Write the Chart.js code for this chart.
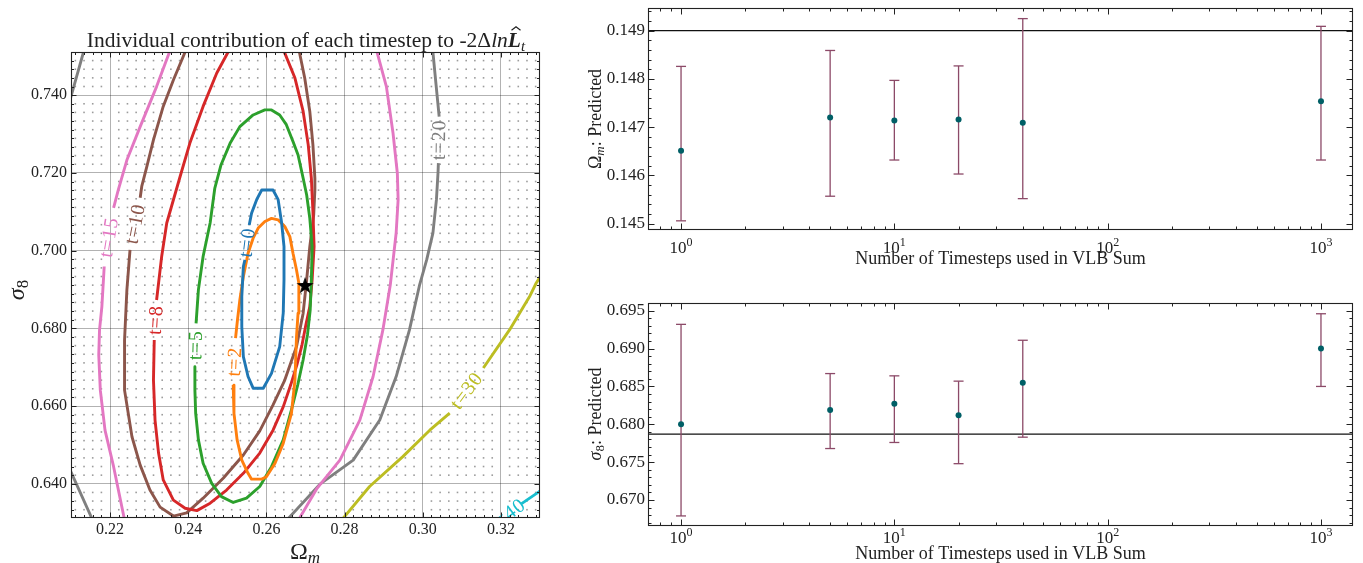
<!DOCTYPE html>
<html>
<head>
<meta charset="utf-8">
<title>VLB timestep contributions</title>
<script src="https://cdn.jsdelivr.net/npm/chart.js@4.4.1/dist/chart.umd.min.js"></script>
<style>
  body { margin: 0; background: #fff; }
  #wrap { position: relative; width: 1363px; height: 563px; }
  canvas { position: absolute; }
</style>
</head>
<body>
<div id="wrap">
  <canvas id="contours" width="560" height="563" style="left:0;top:0;width:560px;height:563px"></canvas>
  <canvas id="omega" width="803" height="280" style="left:560px;top:0;width:803px;height:280px"></canvas>
  <canvas id="sigma" width="803" height="283" style="left:560px;top:280px;width:803px;height:283px"></canvas>
</div>
<script>
// ---- contour lines in (Omega_m, sigma_8); each one is cut where its inline label goes
const contourNames = ['t=0', 't=2', 't=5', 't=8', 't=10', 't=15', 't=20', 't=30', 't=40'];

const contourT0 = [
  [[0.2545,0.6976],[0.2541,0.6959],[0.2537,0.6882],[0.2537,0.6804],[0.2541,0.6727],[0.2553,0.6676],
   [0.2566,0.6646],[0.2592,0.6646],[0.2613,0.6684],[0.2634,0.6753],[0.2643,0.6839],[0.2645,0.6925],
   [0.2645,0.7010],[0.2639,0.7071],[0.2630,0.7131],[0.2617,0.7156],[0.2588,0.7156],[0.2575,0.7131],
   [0.2562,0.7096],[0.2556,0.7066]]
];
const contourT2 = [
  [[0.2515,0.6654],[0.2517,0.6581],[0.2525,0.6513],[0.2537,0.6461],[0.2553,0.6427],[0.2562,0.6412],
   [0.2588,0.6412],[0.2600,0.6418],[0.2622,0.6453],[0.2643,0.6504],[0.2664,0.6581],[0.2673,0.6667],
   [0.2677,0.6779],[0.2681,0.6839],[0.2683,0.6882],[0.2683,0.6916],[0.2677,0.6950],[0.2668,0.6993],
   [0.2660,0.7036],[0.2647,0.7062],[0.2630,0.7079],[0.2613,0.7083],[0.2596,0.7075],[0.2579,0.7058],
   [0.2566,0.7032],[0.2553,0.6993],[0.2541,0.6933],[0.2532,0.6873],[0.2526,0.6822],[0.2521,0.6775]]
];
const contourT5 = [
  [[0.2417,0.6701],[0.2417,0.6641],[0.2419,0.6581],[0.2426,0.6513],[0.2438,0.6453],[0.2460,0.6401],
   [0.2485,0.6367],[0.2515,0.6352],[0.2549,0.6363],[0.2583,0.6393],[0.2613,0.6444],[0.2643,0.6513],
   [0.2664,0.6590],[0.2680,0.6654],[0.2694,0.6719],[0.2705,0.6783],[0.2712,0.6847],[0.2715,0.6925],
   [0.2717,0.7010],[0.2711,0.7083],[0.2703,0.7143],[0.2694,0.7186],[0.2681,0.7246],[0.2668,0.7281],
   [0.2651,0.7324],[0.2634,0.7349],[0.2613,0.7362],[0.2596,0.7362],[0.2566,0.7349],[0.2532,0.7319],
   [0.2507,0.7276],[0.2484,0.7221],[0.2468,0.7161],[0.2456,0.7071],[0.2438,0.6985],[0.2426,0.6899],
   [0.2420,0.6813]]
];
const contourT8 = [
  [[0.2519,0.7542],[0.2502,0.7511],[0.2473,0.7457],[0.2438,0.7371],[0.2404,0.7276],[0.2379,0.7190],
   [0.2345,0.7071],[0.2332,0.6985],[0.2324,0.6916],[0.2319,0.6873]],
  [[0.2313,0.6770],[0.2311,0.6667],[0.2315,0.6564],[0.2324,0.6479],[0.2336,0.6410],[0.2362,0.6358],
   [0.2392,0.6337],[0.2422,0.6331],[0.2456,0.6350],[0.2498,0.6384],[0.2541,0.6427],[0.2583,0.6479],
   [0.2617,0.6538],[0.2643,0.6598],[0.2662,0.6654],[0.2678,0.6706],[0.2691,0.6757],[0.2701,0.6809],
   [0.2711,0.6856],[0.2717,0.6925],[0.2722,0.7010],[0.2719,0.7100],[0.2715,0.7186],[0.2707,0.7272],
   [0.2694,0.7358],[0.2673,0.7444],[0.2647,0.7508],[0.2634,0.7542]]
];
const contourT10 = [
  [[0.2399,0.7542],[0.2392,0.7511],[0.2362,0.7439],[0.2336,0.7371],[0.2311,0.7285],[0.2294,0.7216],
   [0.2281,0.7165],[0.2277,0.7136]],
  [[0.2251,0.7002],[0.2243,0.6899],[0.2237,0.6770],[0.2237,0.6641],[0.2256,0.6521],[0.2277,0.6448],
   [0.2302,0.6384],[0.2328,0.6340],[0.2362,0.6317],[0.2396,0.6325],[0.2438,0.6363],[0.2490,0.6415],
   [0.2541,0.6474],[0.2583,0.6536],[0.2617,0.6603],[0.2647,0.6667],[0.2677,0.6753],[0.2694,0.6839],
   [0.2703,0.6925],[0.2711,0.7010],[0.2721,0.7092],[0.2724,0.7156],[0.2724,0.7186],[0.2719,0.7272],
   [0.2711,0.7358],[0.2698,0.7444],[0.2685,0.7508],[0.2678,0.7542]]
];
const contourT15 = [
  [[0.2874,0.7542],[0.2883,0.7511],[0.2907,0.7422],[0.2924,0.7302],[0.2935,0.7199],[0.2937,0.7131],
   [0.2932,0.7046],[0.2917,0.6912],[0.2898,0.6796],[0.2873,0.6676],[0.2839,0.6564],[0.2788,0.6461],
   [0.2730,0.6389],[0.2685,0.6312],[0.2660,0.6204],[0.2468,0.5998],[0.2256,0.6204],[0.2236,0.6312],
   [0.2209,0.6444],[0.2187,0.6538],[0.2175,0.6641],[0.2171,0.6732],[0.2173,0.6796],[0.2179,0.6856],
   [0.2185,0.6959]],
  [[0.2209,0.7110],[0.2221,0.7156],[0.2243,0.7233],[0.2277,0.7319],[0.2319,0.7422],[0.2352,0.7511],
   [0.2361,0.7542]]
];
const contourT20 = [
  [[0.3018,0.7542],[0.3026,0.7511],[0.3034,0.7427],[0.3042,0.7345]],
  [[0.3040,0.7225],[0.3039,0.7199],[0.3035,0.7131],[0.3026,0.7045],[0.3010,0.6976],[0.2992,0.6912],
   [0.2966,0.6796],[0.2932,0.6676],[0.2890,0.6564],[0.2822,0.6461],[0.2737,0.6399],[0.2656,0.6311],
   [0.2609,0.6255],[0.2379,0.6101],[0.2175,0.6255],[0.2153,0.6312],[0.2101,0.6428],[0.2072,0.6487],
   [0.2021,0.6873],[0.2072,0.7303],[0.2101,0.7400],[0.2132,0.7511],[0.2141,0.7542]]
];
const contourT30 = [
  [[0.2762,0.6268],[0.2796,0.6311],[0.2864,0.6393],[0.2949,0.6470],[0.3018,0.6538],[0.3069,0.6582]],
  [[0.3155,0.6698],[0.3222,0.6796],[0.3273,0.6881],[0.3290,0.6916],[0.3319,0.6963]]
];
const contourT40 = [
  [[0.3120,0.6255],[0.3178,0.6293]],
  [[0.3253,0.6349],[0.3298,0.6380],[0.3337,0.6405]]
];
const contours = [contourT0, contourT2, contourT5, contourT8, contourT10, contourT15, contourT20, contourT30, contourT40];
const fiducial = [0.2699, 0.6909];

const omTicks = [0.22, 0.24, 0.26, 0.28, 0.30, 0.32];
const s8Ticks = [0.640, 0.660, 0.680, 0.700, 0.720, 0.740];

// ---- predictions against the number of timesteps in the VLB sum
const timesteps = [1, 5, 10, 20, 40, 1000];
const omegaPred = [0.14651, 0.14720, 0.14714, 0.14716, 0.14709, 0.14754];
const omegaLow  = [0.14506, 0.14557, 0.14632, 0.14603, 0.14552, 0.14632];
const omegaHigh = [0.14826, 0.14859, 0.14797, 0.14827, 0.14925, 0.14909];
const omegaTrue = 0.149;
const sigmaPred = [0.6800, 0.6819, 0.6827, 0.6812, 0.6855, 0.6900];
const sigmaLow  = [0.6679, 0.6768, 0.6776, 0.6748, 0.6783, 0.6850];
const sigmaHigh = [0.6932, 0.6867, 0.6864, 0.6857, 0.6911, 0.6946];
const sigmaTrue = 0.6787;

const omegaTicks = [0.145, 0.146, 0.147, 0.148, 0.149];
const sigmaTicks = [0.670, 0.675, 0.680, 0.685, 0.690, 0.695];
const stepTicks = [1, 10, 100, 1000];
const stepMinor = [0.8, 0.9, 2, 3, 4, 5, 6, 7, 8, 9, 20, 30, 40, 50, 60, 70, 80, 90,
                   200, 300, 400, 500, 600, 700, 800, 900];

// ---- styling
const SERIF = '"Liberation Serif", "Times New Roman", serif';
const INK = '#222';
const contourColors = ['#1f77b4', '#ff7f0e', '#2ca02c', '#d62728', '#8c564b', '#e377c2', '#7f7f7f', '#bcbd22', '#17becf'];
const BAR = '#8c4a68';
const MEAN = '#005f66';
const font = (size, style) => (style ? style + ' ' : '') + size + 'px ' + SERIF;

Chart.defaults.font.family = SERIF;
Chart.defaults.color = INK;

function subTicks(lo, hi, major, n) {
  const step = major / n, out = [];
  for (let k = Math.ceil(lo / step - 1e-9); k <= Math.floor(hi / step + 1e-9); k++) {
    if (k % n !== 0) out.push(k * step);
  }
  return out;
}

// pin the axis boxes so the plot area lands where we want it
function fixBox(size) {
  return s => {
    if (s.isHorizontal()) s.height = size; else s.width = size;
    s.paddingLeft = s.paddingRight = s.paddingTop = s.paddingBottom = 0;
  };
}

function drawRuns(ctx, item) {
  ctx.save();
  ctx.translate(item.x, item.y);
  if (item.rotate) ctx.rotate(item.rotate * Math.PI / 180);
  ctx.fillStyle = INK;
  ctx.strokeStyle = INK;
  ctx.textAlign = 'left';
  ctx.textBaseline = 'alphabetic';
  let total = 0;
  const runs = item.runs.map(r => {
    ctx.font = r.font;
    const w = ctx.measureText(r.text).width;
    total += w;
    return Object.assign({ w }, r);
  });
  let cx = -total / 2;
  runs.forEach(r => {
    ctx.font = r.font;
    ctx.fillText(r.text, cx, r.dy || 0);
    if (r.hat) {
      const mid = cx + r.w * 0.62, top = -r.size * 0.78;
      ctx.lineWidth = 1.2;
      ctx.beginPath();
      ctx.moveTo(mid - 4.5, top);
      ctx.lineTo(mid, top - 3.5);
      ctx.lineTo(mid + 4.5, top);
      ctx.stroke();
    }
    cx += r.w;
  });
  ctx.restore();
}

function textPlugin(items) {
  return { id: 'texts', afterDraw(chart) { items.forEach(it => drawRuns(chart.ctx, it)); } };
}

// inward ticks on every side, and the axes box
function boxPlugin(o) {
  return {
    id: 'box',
    afterDatasetsDraw(chart) {
      const { ctx, chartArea: a, scales: { x, y } } = chart;
      const L = Math.round(a.left) + 0.5, R = Math.round(a.right) - 0.5;
      const T = Math.round(a.top) + 0.5, B = Math.round(a.bottom) - 0.5;
      ctx.save();
      ctx.strokeStyle = INK;
      ctx.lineWidth = 1;
      ctx.beginPath();
      const xt = (vals, len) => vals.forEach(v => {
        const p = Math.round(x.getPixelForValue(v)) + 0.5;
        if (p < L || p > R) return;
        ctx.moveTo(p, B); ctx.lineTo(p, B - len);
        ctx.moveTo(p, T); ctx.lineTo(p, T + len);
      });
      const yt = (vals, len) => vals.forEach(v => {
        const p = Math.round(y.getPixelForValue(v)) + 0.5;
        if (p < T || p > B) return;
        ctx.moveTo(L, p); ctx.lineTo(L + len, p);
        ctx.moveTo(R, p); ctx.lineTo(R - len, p);
      });
      xt(o.xMajor, o.major); xt(o.xMinor, o.minor);
      yt(o.yMajor, o.major); yt(o.yMinor, o.minor);
      ctx.stroke();
      ctx.lineWidth = 1.1;
      ctx.strokeRect(L, T, R - L, B - T);
      ctx.restore();
    }
  };
}

// ================= left: contour panel =================
const omMinor = subTicks(0.21, 0.33, 0.02, 9);
const s8Minor = subTicks(0.6312, 0.7511, 0.02, 9);

const dotGrid = {
  id: 'dotGrid',
  beforeDatasetsDraw(chart) {
    const { ctx, scales: { x, y } } = chart;
    ctx.save();
    ctx.fillStyle = '#9c9c9c';
    omMinor.forEach(vx => {
      const px = x.getPixelForValue(vx);
      s8Minor.forEach(vy => {
        const py = y.getPixelForValue(vy);
        ctx.fillRect(px - 0.8, py - 0.8, 1.6, 1.6);
      });
    });
    ctx.restore();
  }
};

const contourLabels = {
  id: 'contourLabels',
  afterDatasetsDraw(chart) {
    const { ctx, chartArea: a, scales: { x, y } } = chart;
    ctx.save();
    ctx.beginPath();
    ctx.rect(a.left, a.top, a.right - a.left, a.bottom - a.top);
    ctx.clip();
    ctx.font = font(20);
    ctx.letterSpacing = '1px';
    ctx.textAlign = 'center';
    ctx.textBaseline = 'middle';
    contours.forEach((runs, i) => {
      const first = runs[0], next = runs.length > 1 ? runs[1] : runs[0];
      const p = first[first.length - 1], q = next[0];
      const x0 = x.getPixelForValue(p[0]), y0 = y.getPixelForValue(p[1]);
      const x1 = x.getPixelForValue(q[0]), y1 = y.getPixelForValue(q[1]);
      let ang = Math.atan2(y1 - y0, x1 - x0) * 180 / Math.PI;
      if (ang > 90) ang -= 180;
      if (ang <= -90) ang += 180;
      ctx.save();
      ctx.translate((x0 + x1) / 2, (y0 + y1) / 2);
      ctx.rotate(ang * Math.PI / 180);
      ctx.fillStyle = contourColors[i];
      ctx.fillText(contourNames[i], 0, 1);
      ctx.restore();
    });
    ctx.restore();
  }
};

function starMark(r) {
  const c = document.createElement('canvas');
  c.width = c.height = 2 * r + 2;
  const g = c.getContext('2d');
  g.translate(r + 1, r + 1);
  g.beginPath();
  for (let k = 0; k < 10; k++) {
    const rr = k % 2 ? r * 0.4 : r;
    const t = -Math.PI / 2 + k * Math.PI / 5;
    g.lineTo(rr * Math.cos(t), rr * Math.sin(t));
  }
  g.closePath();
  g.fillStyle = '#000';
  g.fill();
  return c;
}

const contourSets = [{
  data: [{ x: fiducial[0], y: fiducial[1] }],
  pointStyle: starMark(9), pointRadius: 9, showLine: false
}];
contours.forEach((runs, i) => runs.forEach(run => contourSets.push({
  data: run.map(p => ({ x: p[0], y: p[1] })),
  showLine: true, borderColor: contourColors[i], borderWidth: 2.9,
  borderJoinStyle: 'round', pointRadius: 0, clip: 0
})));

new Chart(document.getElementById('contours'), {
  type: 'scatter',
  data: { datasets: contourSets },
  options: {
    responsive: false, animation: false, devicePixelRatio: 1,
    layout: { padding: { left: 0, right: 20, top: 52, bottom: 0 } },
    plugins: { legend: { display: false }, tooltip: { enabled: false } },
    scales: {
      x: {
        type: 'linear', min: 0.21, max: 0.33,
        afterBuildTicks: s => { s.ticks = omTicks.map(v => ({ value: v })); },
        afterFit: fixBox(45),
        ticks: { callback: v => v.toFixed(2), font: { size: 16 }, color: INK, padding: 2, maxRotation: 0, autoSkip: false },
        grid: { color: 'rgba(0,0,0,0.3)', lineWidth: 1, drawTicks: false },
        border: { display: false }
      },
      y: {
        type: 'linear', min: 0.6312, max: 0.7511,
        afterBuildTicks: s => { s.ticks = s8Ticks.map(v => ({ value: v })); },
        afterFit: fixBox(71),
        ticks: { callback: v => v.toFixed(3), font: { size: 16 }, color: INK, padding: 4, autoSkip: false },
        grid: { color: 'rgba(0,0,0,0.3)', lineWidth: 1, drawTicks: false },
        border: { display: false }
      }
    }
  },
  plugins: [
    dotGrid, contourLabels,
    boxPlugin({ xMajor: omTicks, xMinor: omMinor, yMajor: s8Ticks, yMinor: s8Minor, major: 5, minor: 2.5 }),
    textPlugin([
      { x: 306, y: 47, runs: [
        { text: 'Individual contribution of each timestep to -2\u0394', font: font(21.5) },
        { text: 'ln', font: font(21.5, 'italic') },
        { text: 'L', font: font(21.5, 'italic bold'), hat: true, size: 21.5 },
        { text: 't', font: font(15, 'italic'), dy: 4 }
      ] },
      { x: 305, y: 559, runs: [
        { text: '\u03a9', font: font(24) },
        { text: 'm', font: font(17, 'italic'), dy: 4 }
      ] },
      { x: 24, y: 290, rotate: -90, runs: [
        { text: '\u03c3', font: font(24, 'italic') },
        { text: '8', font: font(17), dy: 4 }
      ] }
    ])
  ]
});

// ================= right: predicted values with error bars =================
const STEP_MIN = 0.708, STEP_MAX = 1413;

function stepLabels(base) {
  return {
    id: 'stepLabels',
    afterDraw(chart) {
      const x = chart.scales.x;
      stepTicks.forEach(v => drawRuns(chart.ctx, {
        x: x.getPixelForValue(v), y: base, runs: [
          { text: '10', font: font(17) },
          { text: String(Math.round(Math.log10(v))), font: font(12), dy: -7 }
        ]
      }));
    }
  };
}

function errorPanel(id, o) {
  const bars = [];
  timesteps.forEach((t, i) => {
    bars.push({ x: t, y: o.low[i] }, { x: t, y: o.high[i] }, { x: t, y: null });
  });
  new Chart(document.getElementById(id), {
    type: 'scatter',
    data: {
      datasets: [
        { data: timesteps.map((t, i) => ({ x: t, y: o.pred[i] })), pointRadius: 3,
          pointBackgroundColor: MEAN, pointBorderWidth: 0, showLine: false },
        { data: bars, showLine: true, spanGaps: false, borderColor: BAR, borderWidth: 1.3,
          pointStyle: 'line', pointRadius: 5, pointBorderColor: BAR, pointBorderWidth: 1.3 },
        { data: [{ x: STEP_MIN, y: o.truth }, { x: STEP_MAX, y: o.truth }], showLine: true,
          borderColor: '#111', borderWidth: 1.2, pointRadius: 0, clip: 0 }
      ]
    },
    options: {
      responsive: false, animation: false, devicePixelRatio: 1,
      layout: { padding: { left: 0, right: 10, top: o.top, bottom: 0 } },
      plugins: { legend: { display: false }, tooltip: { enabled: false } },
      scales: {
        x: {
          type: 'logarithmic', min: STEP_MIN, max: STEP_MAX,
          afterBuildTicks: s => { s.ticks = stepTicks.map(v => ({ value: v })); },
          afterFit: fixBox(o.bottom),
          ticks: { display: false },
          grid: { display: false, drawTicks: false }, border: { display: false }
        },
        y: {
          type: 'linear', min: o.yMin, max: o.yMax,
          afterBuildTicks: s => { s.ticks = o.ticks.map(v => ({ value: v })); },
          afterFit: fixBox(88),
          ticks: { callback: v => v.toFixed(3), font: { size: 17 }, color: INK, padding: 3, autoSkip: false },
          grid: { display: false, drawTicks: false }, border: { display: false }
        }
      }
    },
    plugins: [
      boxPlugin({ xMajor: stepTicks, xMinor: stepMinor, yMajor: o.ticks,
                  yMinor: subTicks(o.yMin, o.yMax, o.ticks[1] - o.ticks[0], 5), major: 6, minor: 3 }),
      stepLabels(o.tickBase),
      textPlugin([
        { x: 41, y: o.labelMid, rotate: -90, runs: o.yLabel },
        { x: 440.5, y: o.titleBase, runs: [{ text: 'Number of Timesteps used in VLB Sum', font: font(18) }] }
      ])
    ]
  });
}

errorPanel('omega', {
  pred: omegaPred, low: omegaLow, high: omegaHigh, truth: omegaTrue,
  yMin: 0.14487, yMax: 0.14947, ticks: omegaTicks,
  top: 8, bottom: 50, tickBase: 253, titleBase: 264, labelMid: 119,
  yLabel: [
    { text: '\u03a9', font: font(18) },
    { text: 'm', font: font(13, 'italic'), dy: 3 },
    { text: ': Predicted', font: font(18) }
  ]
});

errorPanel('sigma', {
  pred: sigmaPred, low: sigmaLow, high: sigmaHigh, truth: sigmaTrue,
  yMin: 0.66657, yMax: 0.69602, ticks: sigmaTicks,
  top: 23, bottom: 37, tickBase: 263, titleBase: 279, labelMid: 134,
  yLabel: [
    { text: '\u03c3', font: font(18, 'italic') },
    { text: '8', font: font(13), dy: 3 },
    { text: ': Predicted', font: font(18) }
  ]
});
</script>
</body>
</html>
